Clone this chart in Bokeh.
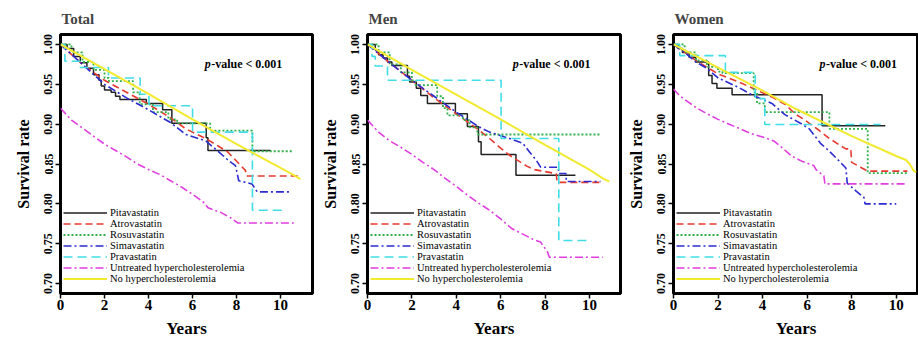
from bokeh.plotting import figure
from bokeh.layouts import row
from bokeh.models import FixedTicker, NumeralTickFormatter, Label, Range1d
from bokeh.embed import file_html
from bokeh.resources import INLINE

# ---------------- data ----------------
panel_titles = ["Total", "Men", "Women"]
series_labels = ["Pitavastatin", "Atrovastatin", "Rosuvastatin", "Simavastatin",
                 "Pravastatin", "Untreated hypercholesterolemia", "No hypercholesterolemia"]
x_ticks = [0, 2, 4, 6, 8, 10]
y_ticks = [0.70, 0.75, 0.80, 0.85, 0.90, 0.95, 1.00]
p_text_italic = "p"
p_text_rest = "-value < 0.001"

# Total
total_pita_t = [0, 0.3, 0.6, 0.9, 1.2, 1.5, 1.75, 1.85, 2.0, 2.3, 2.5, 2.7, 3.9, 4.64, 5.06, 6.62, 6.7, 9.55]
total_pita_s = [1.0, 0.995, 0.985, 0.977, 0.97, 0.962, 0.955, 0.948, 0.943, 0.94, 0.935, 0.931, 0.926, 0.918, 0.901, 0.883, 0.867, 0.867]
total_ator_t = [0, 1, 2, 3, 4, 5, 5.7, 6.6, 7.2, 7.6, 7.95, 8.4, 8.45, 10.83]
total_ator_s = [1.0, 0.975, 0.955, 0.94, 0.925, 0.908, 0.894, 0.882, 0.872, 0.865, 0.855, 0.842, 0.835, 0.835]
total_rosu_t = [0, 0.5, 1.0, 1.5, 2.0, 2.2, 3.3, 3.6, 4.2, 4.9, 5.3, 6.8, 8.72, 10.53]
total_rosu_s = [1.0, 0.99, 0.978, 0.968, 0.958, 0.954, 0.94, 0.925, 0.915, 0.906, 0.901, 0.892, 0.866, 0.866]
total_simv_t = [0, 1, 2, 3, 4, 5, 5.7, 6.6, 7.2, 7.65, 7.95, 8.1, 8.7, 8.94, 10.45]
total_simv_s = [1.0, 0.975, 0.95, 0.933, 0.918, 0.902, 0.887, 0.879, 0.865, 0.854, 0.848, 0.829, 0.825, 0.815, 0.815]
total_prav_t = [0, 0.2, 0.9, 2.18, 3.62, 4.02, 6.0, 8.72, 10.23]
total_prav_s = [1.0, 0.979, 0.971, 0.958, 0.9375, 0.923, 0.89, 0.792, 0.792]
total_untr_t = [0, 0.5, 1, 1.5, 2, 2.5, 3, 3.5, 4, 4.5, 5, 5.5, 6, 6.5, 6.7, 7.3, 7.7, 8.05, 10.6]
total_untr_s = [0.92, 0.905, 0.895, 0.885, 0.875, 0.867, 0.859, 0.85, 0.843, 0.837, 0.829, 0.821, 0.812, 0.802, 0.795, 0.789, 0.783, 0.776, 0.776]
total_noh_t = [0, 2, 4, 6, 8, 10, 10.6, 10.9]
total_noh_s = [1.0, 0.969, 0.938, 0.906, 0.875, 0.845, 0.836, 0.831]

# Men
men_pita_t = [0, 0.35, 0.5, 0.7, 0.9, 1.1, 1.8, 1.9, 2.2, 2.4, 2.7, 3.96, 4.5, 5.0, 5.12, 6.69, 9.37]
men_pita_s = [1.0, 0.993, 0.987, 0.983, 0.978, 0.9735, 0.96, 0.953, 0.945, 0.936, 0.926, 0.913, 0.897, 0.878, 0.862, 0.836, 0.836]
men_ator_t = [0, 1, 2, 3, 4, 5, 5.5, 6.0, 6.4, 7.2, 7.5, 8.5, 8.55, 10.5]
men_ator_s = [1.0, 0.977, 0.955, 0.933, 0.913, 0.893, 0.882, 0.87, 0.861, 0.847, 0.843, 0.838, 0.827, 0.827]
men_rosu_t = [0, 0.5, 1.0, 1.5, 2.0, 2.16, 3.14, 3.4, 3.6, 4.3, 4.6, 4.95, 10.5]
men_rosu_s = [1.0, 0.99, 0.975, 0.965, 0.955, 0.949, 0.935, 0.92, 0.911, 0.905, 0.896, 0.887, 0.887]
men_simv_t = [0, 1, 2, 3, 4, 5, 5.5, 6.4, 7.0, 7.3, 7.6, 7.8, 8.6, 8.62, 8.94, 8.96, 10.5]
men_simv_s = [1.0, 0.977, 0.955, 0.935, 0.915, 0.897, 0.89, 0.882, 0.876, 0.865, 0.855, 0.846, 0.846, 0.838, 0.838, 0.828, 0.828]
men_prav_t = [0, 0.2, 0.35, 0.9, 6.02, 8.62, 10.1]
men_prav_s = [1.0, 0.985, 0.973, 0.955, 0.882, 0.754, 0.754]
men_untr_t = [0, 0.5, 1, 1.5, 2, 2.5, 3, 3.5, 4, 4.5, 5, 5.5, 6, 6.5, 7, 7.5, 7.8, 8.1, 8.2, 10.6]
men_untr_s = [0.905, 0.89, 0.879, 0.871, 0.862, 0.852, 0.843, 0.832, 0.822, 0.811, 0.801, 0.792, 0.781, 0.769, 0.762, 0.755, 0.752, 0.74, 0.733, 0.733]
men_noh_t = [0, 2, 4, 6, 8, 10, 10.6, 10.9]
men_noh_s = [1.0, 0.968, 0.937, 0.906, 0.874, 0.843, 0.832, 0.828]

# Women
women_pita_t = [0, 0.2, 0.4, 0.7, 1.0, 1.58, 1.73, 1.95, 2.63, 6.67, 9.51]
women_pita_s = [1.0, 0.995, 0.99, 0.984, 0.978, 0.961, 0.951, 0.945, 0.937, 0.898, 0.898]
women_ator_t = [0, 1, 2, 2.93, 4.42, 5, 5.5, 5.8, 6.5, 7, 7.5, 7.74, 7.96, 8.0, 8.4, 8.72, 10.5]
women_ator_s = [1.0, 0.98, 0.963, 0.953, 0.934, 0.925, 0.912, 0.907, 0.893, 0.882, 0.873, 0.869, 0.869, 0.852, 0.846, 0.841, 0.841]
women_rosu_t = [0, 0.5, 1.0, 1.5, 2.0, 2.2, 3.6, 3.75, 4.1, 7.0, 8.72, 10.5]
women_rosu_s = [1.0, 0.99, 0.98, 0.972, 0.966, 0.964, 0.94, 0.926, 0.915, 0.894, 0.8385, 0.8385]
women_simv_t = [0, 0.5, 1, 1.5, 2, 2.93, 3.5, 4.42, 5, 5.77, 6.1, 6.6, 7.0, 7.5, 7.74, 7.8, 8.2, 8.55, 8.6, 10.0]
women_simv_s = [1.0, 0.99, 0.978, 0.97, 0.958, 0.946, 0.937, 0.926, 0.912, 0.9, 0.894, 0.876, 0.866, 0.852, 0.845, 0.826, 0.816, 0.808, 0.8, 0.8]
women_prav_t = [0, 0.28, 2.33, 3.67, 4.1, 9.3]
women_prav_s = [1.0, 0.986, 0.965, 0.932, 0.8995, 0.8995]
women_untr_t = [0, 0.3, 0.7, 1.0, 1.5, 2, 2.5, 3, 3.5, 4, 4.5, 4.9, 5.3, 5.8, 6.3, 6.4, 6.75, 6.8, 10.5]
women_untr_s = [0.944, 0.935, 0.927, 0.921, 0.913, 0.906, 0.9, 0.894, 0.888, 0.884, 0.879, 0.87, 0.86, 0.853, 0.848, 0.843, 0.835, 0.825, 0.825]
women_noh_t = [0, 2, 4, 5.5, 8, 10, 10.44, 10.6, 10.8, 10.9]
women_noh_s = [1.0, 0.971, 0.942, 0.919, 0.885, 0.86, 0.855, 0.85, 0.841, 0.84]

panels_data = [
    [(total_pita_t, total_pita_s), (total_ator_t, total_ator_s), (total_rosu_t, total_rosu_s),
     (total_simv_t, total_simv_s), (total_prav_t, total_prav_s), (total_untr_t, total_untr_s),
     (total_noh_t, total_noh_s)],
    [(men_pita_t, men_pita_s), (men_ator_t, men_ator_s), (men_rosu_t, men_rosu_s),
     (men_simv_t, men_simv_s), (men_prav_t, men_prav_s), (men_untr_t, men_untr_s),
     (men_noh_t, men_noh_s)],
    [(women_pita_t, women_pita_s), (women_ator_t, women_ator_s), (women_rosu_t, women_rosu_s),
     (women_simv_t, women_simv_s), (women_prav_t, women_prav_s), (women_untr_t, women_untr_s),
     (women_noh_t, women_noh_s)],
]

# ---------------- styles ----------------
STYLES = [
    dict(color="#222222", dash="solid", width=1.5, step=True),
    dict(color="#e8392f", dash="7 4", width=1.6, step=False),
    dict(color="#2fb04a", dash="2 2", width=1.8, step=True),
    dict(color="#2b2bd0", dash="8 3 2 3", width=1.6, step=False),
    dict(color="#40dde6", dash="9 5", width=1.6, step=True),
    dict(color="#e03ee0", dash="8 3 2 3", width=1.6, step=False),
    dict(color="#f2ea2e", dash="solid", width=2.0, step=False),
]
SERIF = "Liberation Serif"


def make_panel(title, curves, width, x_end, border_left, border_right):
    p = figure(width=width, height=341,
               x_range=Range1d(0, x_end), y_range=Range1d(0.6875, 1.0125),
               output_backend="svg", toolbar_location=None,
               min_border_left=border_left, min_border_right=border_right,
               min_border_top=33, min_border_bottom=48)
    p.background_fill_color = "white"
    p.border_fill_color = "white"
    p.outline_line_color = "black"
    p.outline_line_width = 3
    p.xgrid.visible = False
    p.ygrid.visible = False

    for (t, s), lab, st in zip(curves, series_labels, STYLES):
        if st["step"]:
            p.step(t, s, mode="after", line_color=st["color"], line_dash=st["dash"],
                   line_width=st["width"], legend_label=lab)
        else:
            p.line(t, s, line_color=st["color"], line_dash=st["dash"],
                   line_width=st["width"], legend_label=lab)

    # title
    p.title.text = title
    p.title.text_font = SERIF
    p.title.text_font_size = "15px"
    p.title.text_font_style = "bold"
    p.title.align = "left"
    p.title.offset = 1
    p.title.standoff = 16

    # axes
    p.xaxis.ticker = FixedTicker(ticks=x_ticks)
    p.yaxis.ticker = FixedTicker(ticks=y_ticks)
    p.yaxis.formatter = NumeralTickFormatter(format="0.00")
    p.yaxis.major_label_orientation = "vertical"
    p.xaxis.axis_label = "Years"
    p.yaxis.axis_label = "Survival rate"
    for ax in (p.xaxis[0], p.yaxis[0]):
        ax.axis_line_color = None
        ax.minor_tick_line_color = None
        ax.major_tick_in = 0
        ax.major_tick_out = 5
        ax.major_tick_line_color = "black"
        ax.major_tick_line_width = 1.5
        ax.major_label_text_font = SERIF
        ax.major_label_text_font_style = "bold"
        ax.major_label_text_color = "black"
        ax.axis_label_text_font = SERIF
        ax.axis_label_text_font_style = "bold"
        ax.axis_label_text_color = "black"
    p.xaxis.major_label_text_font_size = "15px"
    p.xaxis.major_label_standoff = 1
    p.xaxis.axis_label_text_font_size = "17px"
    p.xaxis.axis_label_standoff = 6
    p.yaxis.major_label_text_font_size = "12px"
    p.yaxis.major_label_standoff = 3
    p.yaxis.axis_label_text_font_size = "16px"
    p.yaxis.axis_label_standoff = 10

    # p-value annotation
    p.add_layout(Label(x=6.55, y=0.976, text=p_text_italic, text_font=SERIF,
                       text_font_style="bold italic", text_font_size="12px",
                       text_baseline="middle", text_color="black"))
    p.add_layout(Label(x=6.55, y=0.976, x_offset=6.5, text=p_text_rest, text_font=SERIF,
                       text_font_style="bold", text_font_size="12px",
                       text_baseline="middle", text_color="black"))

    # legend
    lg = p.legend[0]
    lg.location = (3, 9)
    lg.margin = 0
    lg.padding = 1
    lg.spacing = 0
    lg.background_fill_alpha = 0
    lg.border_line_color = None
    lg.glyph_width = 44
    lg.glyph_height = 11
    lg.label_height = 11
    lg.label_standoff = 3
    lg.label_text_font = SERIF
    lg.label_text_font_size = "10.5px"
    lg.label_text_color = "black"
    return p


widths = [314, 308, 296]
borders_left = [60, 53, 51]
borders_right = [2, 2, 0]
x_ends = [11.45, 11.4, 11.0]
figs = [make_panel(tt, cv, w, xe, bl, br)
        for tt, cv, w, xe, bl, br in zip(panel_titles, panels_data, widths, x_ends, borders_left, borders_right)]
layout = row(*figs)

open("out.html", "w").write(file_html(layout, INLINE, "Survival"))
